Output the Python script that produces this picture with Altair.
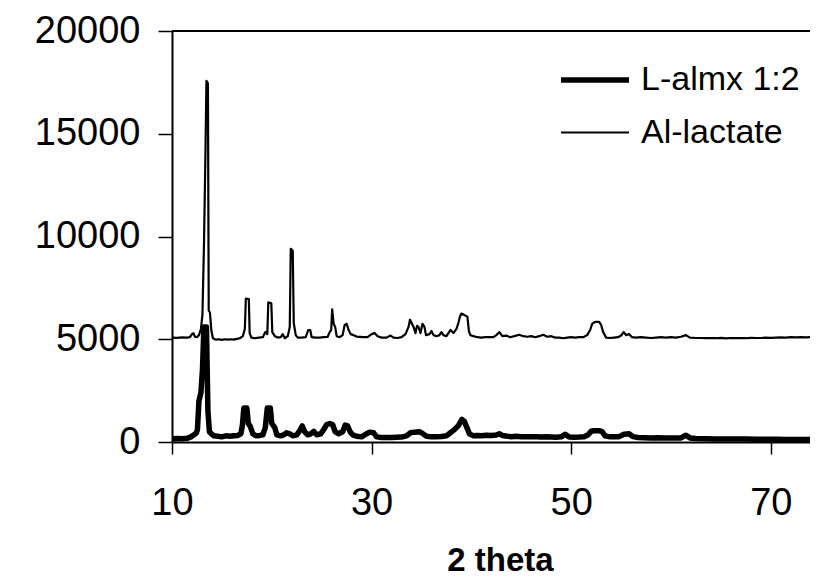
import altair as alt
import pandas as pd

series_names = ["L-almx 1:2", "Al-lactate"]
x_ticks = [10, 30, 50, 70]
y_ticks = [0, 5000, 10000, 15000, 20000]

# Al-lactate (thin line, offset pattern)
theta_lactate = [
    10.0, 10.5, 11.0, 11.5, 11.8, 12.0, 12.15, 12.3, 12.5, 12.7, 12.9, 13.05, 13.2, 13.35, 13.45,
    13.6, 13.68, 13.8, 13.95, 14.1, 14.4, 14.7, 15.0, 15.3, 15.6, 15.9, 16.2, 16.5, 16.8, 17.1,
    17.3, 17.4, 17.7, 17.78, 17.95, 18.3, 18.7, 19.1, 19.35, 19.55, 19.65, 19.95, 20.05, 20.3,
    20.6, 20.9, 21.1, 21.3, 21.6, 21.8, 21.9, 22.1, 22.2, 22.4, 22.6, 23.0, 23.4, 23.65, 23.85,
    24.0, 24.4, 24.8, 25.2, 25.6, 25.8, 25.95, 26.05, 26.2, 26.35, 26.5, 26.8, 27.1, 27.3, 27.5,
    27.7, 27.9, 28.2, 28.5, 28.8, 29.2, 29.6, 30.0, 30.3, 30.6, 31.0, 31.5, 31.9, 32.2, 32.6,
    33.0, 33.4, 33.7, 33.85, 34.0, 34.2, 34.4, 34.55, 34.7, 34.9, 35.1, 35.3, 35.45, 35.8, 36.0,
    36.2, 36.5, 36.8, 37.0, 37.2, 37.5, 37.7, 37.9, 38.2, 38.5, 38.7, 38.85, 39.0, 39.2, 39.4,
    39.6, 39.75, 39.9, 40.2, 40.6, 41.0, 41.4, 41.8, 42.2, 42.5, 42.8, 43.1, 43.5, 43.9, 44.3,
    44.8, 45.2, 45.6, 46.0, 46.4, 46.8, 47.2, 47.6, 48.0, 48.4, 48.8, 49.2, 49.6, 50.0, 50.4,
    50.8, 51.2, 51.6, 51.9, 52.1, 52.4, 52.8, 53.0, 53.2, 53.5, 53.9, 54.3, 54.7, 55.0, 55.25,
    55.5, 55.8, 56.1, 56.5, 57.0, 57.5, 58.0, 58.5, 59.0, 59.5, 60.0, 60.5, 61.0, 61.5, 61.9,
    62.5, 63.0, 63.5, 64.0, 64.5, 65.0, 65.5, 66.0, 66.5, 67.0, 67.5, 68.0, 68.5, 69.0, 69.5,
    70.0, 70.5, 71.0, 71.5, 72.0, 72.5, 73.0, 73.5, 74.0,
]
intensity_lactate = [
    5080, 5070, 5090, 5080, 5100, 5250, 5300, 5120, 5100, 5200, 5500, 6200, 9500, 14000, 17570,
    17450, 6400, 6300, 5400, 5050, 4980, 5000, 4970, 5000, 4980, 5000, 4980, 5020, 5050, 5150,
    5500, 6980, 6950, 5300, 5080, 5050, 5080, 5100, 5350, 5250, 6800, 6750, 5350, 5150,
    5080, 5100, 5250, 5050, 5150, 5600, 9400, 9300, 5800, 5200, 5080, 5080, 5100, 5450, 5450,
    5100, 5080, 5080, 5100, 5120, 5350, 5450, 6450, 5750, 5600, 5150, 5100, 5200, 5700, 5750,
    5450, 5250, 5200, 5130, 5120, 5100, 5100, 5250, 5300, 5150, 5080, 5080, 5180, 5080, 5060,
    5100, 5250, 5600, 5950, 5800, 5600, 5300, 5650, 5600, 5300, 5750, 5600, 5200, 5250, 5400,
    5200, 5150, 5200, 5350, 5200, 5150, 5300, 5450, 5300, 5500, 5800, 6100, 6250, 6200, 6150,
    6100, 5400, 5200, 5150, 5100, 5080, 5100, 5100, 5100, 5200, 5350, 5150, 5180, 5100, 5150,
    5220, 5150, 5120, 5150, 5100, 5150, 5220, 5120, 5150, 5080, 5080, 5050, 5080, 5100, 5080,
    5100, 5100, 5200, 5450, 5750, 5850, 5850, 5700, 5350, 5080, 5060, 5080, 5100, 5180, 5350,
    5200, 5250, 5100, 5080, 5100, 5080, 5060, 5080, 5100, 5080, 5100, 5080, 5120, 5200, 5080,
    5060, 5060, 5050, 5060, 5050, 5070, 5040, 5060, 5050, 5060, 5050, 5070, 5060, 5060, 5080,
    5070, 5080, 5090, 5080, 5100, 5090, 5100, 5090, 5100,
]

# L-almx 1:2 (thick line)
theta_almx = [
    10.0, 10.5, 11.0, 11.5, 11.9, 12.2, 12.45, 12.55, 12.7, 12.9, 13.05, 13.2, 13.45, 13.6, 13.75,
    13.95, 14.2, 14.6, 15.0, 15.4, 15.8, 16.2, 16.6, 16.9, 17.05, 17.2, 17.5, 17.65, 17.85, 18.1,
    18.4, 18.8, 19.1, 19.35, 19.55, 19.85, 20.0, 20.3, 20.5, 20.9, 21.2, 21.5, 21.8, 22.1, 22.5,
    22.8, 23.05, 23.3, 23.6, 23.9, 24.2, 24.5, 24.9, 25.2, 25.5, 25.8, 26.1, 26.35, 26.7, 27.1,
    27.35, 27.6, 27.85, 28.1, 28.5, 29.0, 29.5, 29.8, 30.2, 30.5, 31.0, 31.5, 32.0, 32.5, 33.0,
    33.5, 33.9, 34.3, 34.8, 35.1, 35.5, 36.0, 36.5, 37.0, 37.5, 37.9, 38.3, 38.7, 39.05, 39.3,
    39.55, 39.8, 40.2, 40.6, 41.0, 41.5, 42.0, 42.5, 42.8, 43.1, 43.6, 44.0, 44.5, 45.0, 45.5,
    46.0, 46.5, 47.0, 47.5, 48.0, 48.5, 49.0, 49.4, 49.8, 50.3, 50.8, 51.3, 51.7, 52.0, 52.3,
    52.8, 53.1, 53.4, 53.8, 54.3, 54.8, 55.3, 55.8, 56.2, 56.7, 57.3, 58.0, 58.7, 59.5, 60.3,
    61.0, 61.5, 61.9, 62.5, 63.5, 64.5, 65.5, 66.5, 67.5, 68.5, 69.5, 70.5, 71.5, 72.5, 73.5,
    74.0,
]
intensity_almx = [
    160, 170, 160, 180, 250, 350, 450, 600, 2000, 2400, 3500, 5600, 5600, 1500, 500,
    400, 300, 280, 250, 300, 280, 300, 320, 400, 800, 1650, 1650, 900, 750, 400,
    300, 320, 350, 700, 1650, 1650, 900, 700, 350, 300, 350, 450, 400, 300, 350,
    550, 780, 500, 350, 400, 520, 350, 400, 600, 850, 900, 850, 500, 400, 500,
    820, 780, 500, 350, 280, 250, 400, 480, 450, 250, 220, 220, 220, 230, 240,
    300, 450, 480, 500, 420, 280, 250, 260, 270, 300, 450, 600, 800, 1100, 1000,
    700, 400, 300, 320, 300, 330, 320, 340, 400, 320, 280, 260, 280, 260, 250,
    260, 250, 240, 250, 240, 230, 250, 380, 240, 230, 240, 260, 350, 520, 550,
    550, 500, 300, 260, 250, 260, 380, 400, 260, 220, 210, 200, 210, 200, 190,
    200, 330, 200, 170, 160, 150, 150, 140, 140, 130, 130, 130, 120, 120, 120,
    120,
]

frames = []
for name, xs, ys in [
    (series_names[0], theta_almx, intensity_almx),
    (series_names[1], theta_lactate, intensity_lactate),
]:
    frames.append(pd.DataFrame({"theta": xs, "intensity": ys, "series": name}))
df = pd.concat(frames, ignore_index=True)
df["order"] = range(len(df))

FONT = "Liberation Sans"

legend_spec = alt.Legend(
    title=None,
    orient="none",
    legendX=403,
    legendY=29,
    symbolType="M-2,0H2",
    symbolSize=1156,
    labelFontSize=34,
    labelFont=FONT,
    labelColor="black",
    labelOffset=26,
    rowPadding=17,
    padding=0,
)

x_enc = alt.X(
    "theta:Q",
    scale=alt.Scale(domain=[10, 73.93], nice=False, zero=False),
    axis=alt.Axis(
        values=x_ticks,
        title="2 theta",
        grid=False,
        domainColor="black",
        domainWidth=2,
        tickColor="black",
        tickWidth=1.5,
        tickSize=12,
        labelFontSize=38,
        labelFont=FONT,
        labelColor="black",
        labelPadding=30,
        labelFlush=False,
        titleFontSize=33,
        titleFont=FONT,
        titleFontWeight="bold",
        titleColor="black",
        titleBaseline="alphabetic",
        titleY=128,
        titleX=328,
    ),
)
y_enc = alt.Y(
    "intensity:Q",
    scale=alt.Scale(domain=[0, 20000], nice=False),
    axis=alt.Axis(
        values=y_ticks,
        format="d",
        title=None,
        grid=False,
        domainColor="black",
        domainWidth=2,
        tickColor="black",
        tickWidth=1.5,
        tickSize=14,
        labelFontSize=38,
        labelFont=FONT,
        labelColor="black",
        labelPadding=18,
    ),
)

lines = alt.Chart(df).mark_line(strokeJoin="round").encode(
    x=x_enc,
    y=y_enc,
    color=alt.Color(
        "series:N",
        scale=alt.Scale(domain=series_names, range=["black", "black"]),
        legend=legend_spec,
    ),
    strokeWidth=alt.StrokeWidth(
        "series:N",
        scale=alt.Scale(domain=series_names, range=[5.5, 2.2]),
        legend=legend_spec,
    ),
    order="order:Q",
)

top_frame = alt.Chart(pd.DataFrame({"v": [y_ticks[-1]]})).mark_rule(
    color="black", strokeWidth=2
).encode(y=alt.Y("v:Q"))

chart = (
    alt.layer(lines, top_frame)
    .properties(
        width=638,
        height=411,
        padding={"left": 164, "top": 23, "right": 0, "bottom": 138},
        autosize=alt.AutoSizeParams(type="none"),
        background="white",
    )
    .configure_view(stroke=None)
)

chart.save("out.html", embed_options={"renderer": "svg", "actions": False})
